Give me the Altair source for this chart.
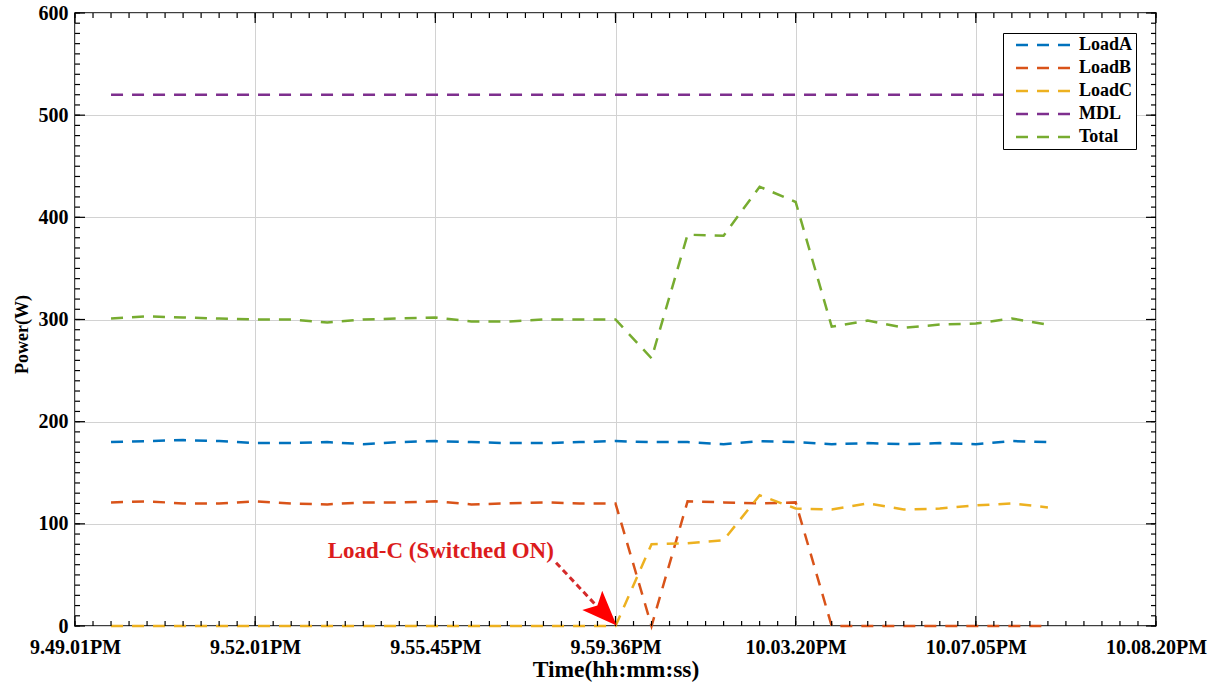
import altair as alt
import pandas as pd

# ---------------- data ----------------
x_tick_pos = [0, 10, 20, 30, 40, 50, 60]
x_tick_labels = ["9.49.01PM", "9.52.01PM", "9.55.45PM", "9.59.36PM",
                 "10.03.20PM", "10.07.05PM", "10.08.20PM"]
y_ticks = [0, 100, 200, 300, 400, 500, 600]

sample = [2, 4, 6, 8, 10, 12, 14, 16, 18, 20, 22, 24, 26, 28, 30,
          32, 34, 36, 38, 40, 42, 44, 46, 48, 50, 52, 54]

load_a = [180, 181, 182, 181, 179, 179, 180, 178, 180, 181, 180, 179, 179, 180, 181,
          180, 180, 178, 181, 180, 178, 179, 178, 179, 178, 181, 180]
load_b = [121, 122, 120, 120, 122, 120, 119, 121, 121, 122, 119, 120, 121, 120, 120,
          0, 122, 121, 120, 121, 0, 0, 0, 0, 0, 0, 0]
load_c = [0, 0, 0, 0, 0, 0, 0, 0, 0, 0, 0, 0, 0, 0, 0,
          80, 81, 84, 128, 115, 114, 120, 114, 115, 118, 120, 116]
mdl = [520, 520, 520, 520, 520, 520, 520, 520, 520, 520, 520, 520, 520, 520, 520,
       520, 520, 520, 520, 520, 520, 520, 520, 520, 520, 520, 520]
total = [301, 303, 302, 301, 300, 300, 297, 300, 301, 302, 298, 298, 300, 300, 300,
         262, 383, 382, 430, 415, 293, 299, 292, 295, 296, 301, 295]

series_names = ["LoadA", "LoadB", "LoadC", "MDL", "Total"]
series_colors = ["#0072BD", "#D95319", "#EDB120", "#7E2F8E", "#77AC30"]

# annotation
note_text = "Load-C (Switched ON)"
note_x, note_y = 20.3, 73
arrow_x1, arrow_y1, arrow_x2, arrow_y2 = 26.7, 62, 29.2, 15
head_x, head_y = 29.35, 13.5

# ---------------- build ----------------
W, H = 1081, 613
FONT = "Liberation Serif"

rows = []
for name, vals in zip(series_names, [load_a, load_b, load_c, mdl, total]):
    for s, v in zip(sample, vals):
        rows.append({"idx": s, "value": v, "series": name})
df = pd.DataFrame(rows)

xs = alt.Scale(domain=[0, 60], nice=False, zero=False)
ys = alt.Scale(domain=[0, 600], nice=False, zero=False)

label_expr = "[" + ",".join("'" + s + "'" for s in x_tick_labels) + "][round(datum.value/10)]"

x_axis = alt.Axis(values=x_tick_pos, labelExpr=label_expr, title="Time(hh:mm:ss)",
                  grid=True, ticks=False, domain=False, labelFlush=False,
                  labelOverlap=False, labelPadding=11, titlePadding=0,
                  titleFontSize=23.5)
y_axis = alt.Axis(values=y_ticks, title="Power(W)", grid=True, ticks=False,
                  domain=False, labelFlush=False, labelPadding=7,
                  titleFontSize=18, titleX=-44, titleY=321, titleAngle=270,
                  titleAlign="center", titleBaseline="bottom")


def X(field):
    return alt.X(field, scale=xs, axis=x_axis, title="Time(hh:mm:ss)")


def Y(field):
    return alt.Y(field, scale=ys, axis=y_axis, title="Power(W)")


lines = alt.Chart(df).mark_line(strokeDash=[12, 9], strokeWidth=2.5).encode(
    x=X("idx:Q"),
    y=Y("value:Q"),
    color=alt.Color("series:N", scale=alt.Scale(domain=series_names, range=series_colors),
                    legend=alt.Legend(title=None, orient="none", legendX=928, legendY=20,
                                      symbolType="M0.2,0H11.6", symbolSize=100,
                                      symbolStrokeWidth=2.5, symbolDash=[12, 9],
                                      labelFont=FONT, labelFontSize=18,
                                      labelFontWeight="bold", labelColor="black",
                                      labelOffset=55, padding=3, rowPadding=5,
                                      fillColor="white", strokeColor="black",
                                      cornerRadius=0, labelLimit=300)),
)

minor_x = pd.DataFrame({"t": list(range(0, 61))})
major_x = pd.DataFrame({"t": x_tick_pos})
minor_y = pd.DataFrame({"v": list(range(0, 601, 10))})
major_y = pd.DataFrame({"v": y_ticks})


def xticks(data, length, top):
    if top:
        y1, y2 = 0, length
    else:
        y1, y2 = H, H - length
    return alt.Chart(data).mark_rule(color="black", strokeWidth=1.2).encode(
        x=X("t:Q"), y=alt.value(y1), y2=alt.value(y2))


def yticks(data, length, right):
    if right:
        x1, x2 = W, W - length
    else:
        x1, x2 = 0, length
    return alt.Chart(data).mark_rule(color="black", strokeWidth=1.2).encode(
        y=Y("v:Q"), x=alt.value(x1), x2=alt.value(x2))


ticks = [xticks(minor_x, 5, False), xticks(major_x, 10, False),
         xticks(minor_x, 5, True), xticks(major_x, 10, True),
         yticks(minor_y, 5, False), yticks(major_y, 10, False),
         yticks(minor_y, 5, True), yticks(major_y, 10, True)]

note_df = pd.DataFrame({"x": [note_x], "y": [note_y], "t": [note_text]})
note = alt.Chart(note_df).mark_text(font=FONT, fontSize=23, fontWeight="bold",
                                    color="#dc1c1c", align="center",
                                    baseline="middle").encode(
    x=X("x:Q"), y=Y("y:Q"), text="t:N")

arrow_df = pd.DataFrame({"x1": [arrow_x1], "y1": [arrow_y1], "x2": [arrow_x2], "y2": [arrow_y2]})
arrow = alt.Chart(arrow_df).mark_rule(color="#d42a2a", strokeWidth=3,
                                      strokeDash=[6, 4]).encode(
    x=X("x1:Q"), y=Y("y1:Q"), x2="x2:Q", y2="y2:Q")

head_df = pd.DataFrame({"x": [head_x], "y": [head_y]})
head = alt.Chart(head_df).mark_point(shape="M0,-1L0.75,0.9L0,0.5L-0.75,0.9Z",
                                     filled=True, color="#ff0000", opacity=1,
                                     size=1360, angle=136).encode(
    x=X("x:Q"), y=Y("y:Q"))

chart = alt.layer(lines, *ticks, arrow, head, note).properties(
    width=W, height=H,
    padding={"left": 75, "top": 13, "right": 54, "bottom": 57},
    autosize=alt.AutoSizeParams(type="none"),
    background="white",
).configure_view(stroke="black", strokeWidth=1.5).configure_axis(
    labelFont=FONT, labelFontSize=20, labelFontWeight="bold", labelColor="black",
    titleFont=FONT, titleFontWeight="bold", titleColor="black",
    gridColor="#d2d2d2", gridWidth=1, gridOpacity=1,
)

chart.save("out.html", embed_options={"renderer": "svg", "actions": False})
